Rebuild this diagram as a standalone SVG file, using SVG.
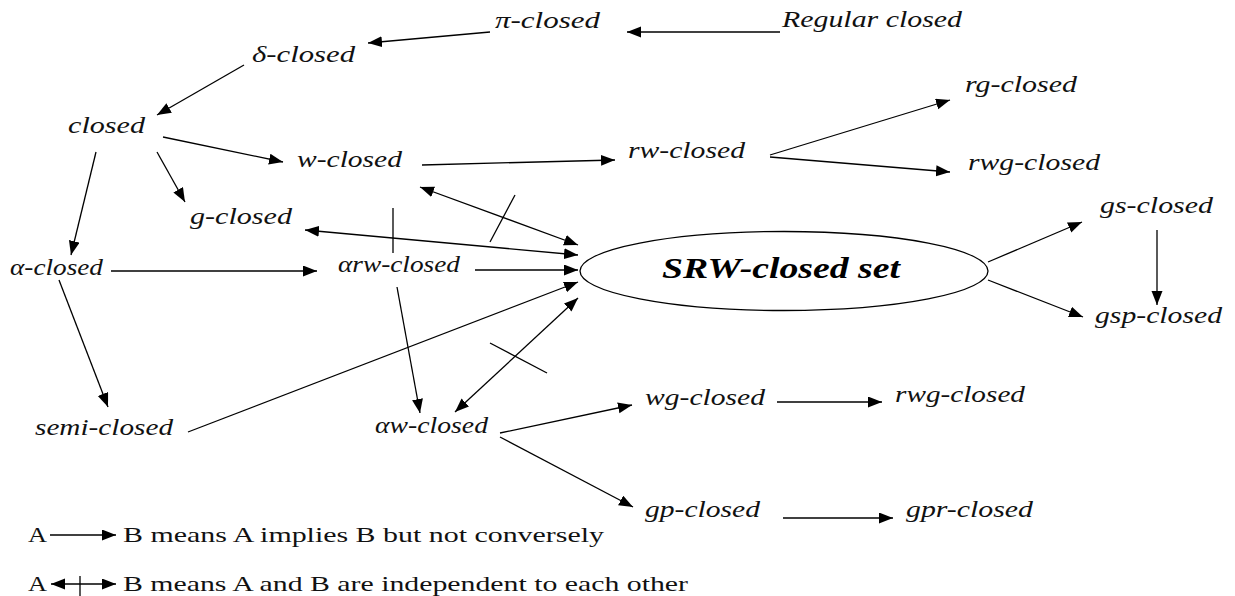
<svg xmlns="http://www.w3.org/2000/svg" width="1235" height="596" viewBox="0 0 1235 596">
<defs>
<marker id="ah" markerUnits="userSpaceOnUse" markerWidth="15" markerHeight="12" refX="14" refY="5.5" orient="auto-start-reverse" viewBox="0 0 15 12">
<path d="M0,0 L14,5.5 L0,11 z" fill="#000"/>
</marker>
</defs>
<style>
.lbl{font-family:"Liberation Serif","Times New Roman",serif;font-style:italic;font-size:23px;fill:#111}
.main{font-family:"Liberation Serif","Times New Roman",serif;font-style:italic;font-weight:bold;font-size:30px;fill:#000}
.leg{font-family:"Liberation Serif","Times New Roman",serif;font-size:21px;fill:#111}
.c{stroke:#000;stroke-width:1.3;fill:none}
.a{marker-end:url(#ah)}
.d{marker-start:url(#ah);marker-end:url(#ah)}
</style>
<rect width="1235" height="596" fill="#fff"/>
<g id="connectors">
<line class="c a" x1="780" y1="32" x2="627" y2="32"/>
<line class="c a" x1="490" y1="32" x2="368" y2="43"/>
<line class="c a" x1="244" y1="65" x2="157" y2="115"/>
<line class="c a" x1="163" y1="137" x2="283" y2="162"/>
<line class="c a" x1="157" y1="152" x2="185" y2="202"/>
<line class="c a" x1="96" y1="152" x2="71" y2="255"/>
<line class="c a" x1="111" y1="271" x2="317" y2="271"/>
<line class="c a" x1="59" y1="280" x2="108" y2="407"/>
<line class="c a" x1="188" y1="432" x2="578" y2="282"/>
<line class="c a" x1="475" y1="270" x2="578" y2="270"/>
<line class="c a" x1="397" y1="287" x2="420" y2="413"/>
<line class="c d" x1="455" y1="412" x2="578" y2="298"/>
<line class="c" x1="490" y1="343" x2="547" y2="373"/>
<line class="c d" x1="305" y1="230" x2="578" y2="255"/>
<line class="c" x1="393" y1="208" x2="393" y2="253"/>
<line class="c d" x1="420" y1="187" x2="578" y2="245"/>
<line class="c" x1="515" y1="195" x2="490" y2="242"/>
<line class="c a" x1="422" y1="165" x2="615" y2="160"/>
<line class="c a" x1="770" y1="155" x2="950" y2="100"/>
<line class="c a" x1="770" y1="157" x2="950" y2="172"/>
<line class="c a" x1="988" y1="262" x2="1082" y2="222"/>
<line class="c a" x1="988" y1="280" x2="1083" y2="317"/>
<line class="c a" x1="1157" y1="230" x2="1157" y2="305"/>
<line class="c a" x1="500" y1="433" x2="632" y2="405"/>
<line class="c a" x1="500" y1="437" x2="633" y2="507"/>
<line class="c a" x1="777" y1="402" x2="882" y2="402"/>
<line class="c a" x1="783" y1="518" x2="893" y2="518"/>
</g>
<g id="srw"><ellipse cx="784" cy="271" rx="204" ry="39.5" fill="none" stroke="#000" stroke-width="1.3"/><text class="main" x="662" y="278" textLength="238" lengthAdjust="spacingAndGlyphs">SRW-closed set</text></g>
<g id="pi"><text class="lbl" x="495" y="28" textLength="105" lengthAdjust="spacingAndGlyphs">π-closed</text></g>
<g id="regular"><text class="lbl" x="782" y="27" textLength="180" lengthAdjust="spacingAndGlyphs">Regular closed</text></g>
<g id="delta"><text class="lbl" x="252" y="62" textLength="103" lengthAdjust="spacingAndGlyphs">δ-closed</text></g>
<g id="closed"><text class="lbl" x="68" y="133" textLength="77" lengthAdjust="spacingAndGlyphs">closed</text></g>
<g id="w"><text class="lbl" x="297" y="167" textLength="105" lengthAdjust="spacingAndGlyphs">w-closed</text></g>
<g id="g"><text class="lbl" x="190" y="224" textLength="102" lengthAdjust="spacingAndGlyphs">g-closed</text></g>
<g id="alpha"><text class="lbl" x="10" y="275" textLength="93" lengthAdjust="spacingAndGlyphs">α-closed</text></g>
<g id="arw"><text class="lbl" x="338" y="272" textLength="122" lengthAdjust="spacingAndGlyphs">αrw-closed</text></g>
<g id="rw"><text class="lbl" x="628" y="158" textLength="117" lengthAdjust="spacingAndGlyphs">rw-closed</text></g>
<g id="rg"><text class="lbl" x="965" y="92" textLength="112" lengthAdjust="spacingAndGlyphs">rg-closed</text></g>
<g id="rwg1"><text class="lbl" x="968" y="170" textLength="132" lengthAdjust="spacingAndGlyphs">rwg-closed</text></g>
<g id="gs"><text class="lbl" x="1100" y="213" textLength="113" lengthAdjust="spacingAndGlyphs">gs-closed</text></g>
<g id="gsp"><text class="lbl" x="1095" y="323" textLength="127" lengthAdjust="spacingAndGlyphs">gsp-closed</text></g>
<g id="semi"><text class="lbl" x="35" y="435" textLength="138" lengthAdjust="spacingAndGlyphs">semi-closed</text></g>
<g id="aw"><text class="lbl" x="375" y="433" textLength="113" lengthAdjust="spacingAndGlyphs">αw-closed</text></g>
<g id="wg"><text class="lbl" x="645" y="405" textLength="120" lengthAdjust="spacingAndGlyphs">wg-closed</text></g>
<g id="rwg2"><text class="lbl" x="895" y="402" textLength="130" lengthAdjust="spacingAndGlyphs">rwg-closed</text></g>
<g id="gp"><text class="lbl" x="645" y="517" textLength="115" lengthAdjust="spacingAndGlyphs">gp-closed</text></g>
<g id="gpr"><text class="lbl" x="906" y="517" textLength="127" lengthAdjust="spacingAndGlyphs">gpr-closed</text></g>
<g id="legend">
<text class="leg" x="28" y="542" textLength="19" lengthAdjust="spacingAndGlyphs">A</text>
<line class="c a" x1="50" y1="535" x2="116" y2="535"/>
<text class="leg" x="123" y="542" textLength="481" lengthAdjust="spacingAndGlyphs">B means A implies B but not conversely</text>
<text class="leg" x="28" y="591" textLength="19" lengthAdjust="spacingAndGlyphs">A</text>
<line class="c d" x1="51" y1="584" x2="116" y2="584"/>
<line class="c" x1="80" y1="576" x2="80" y2="596"/>
<text class="leg" x="123" y="591" textLength="565" lengthAdjust="spacingAndGlyphs">B means A and B are independent to each other</text>
</g>
</svg>
